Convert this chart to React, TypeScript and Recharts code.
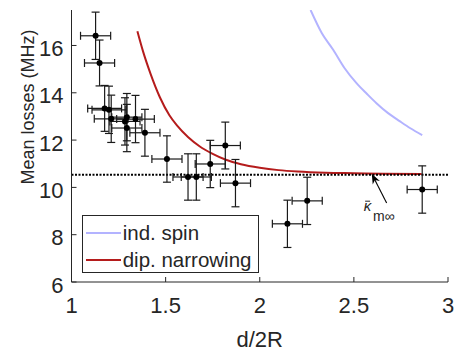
import React from 'react';
import {
  ComposedChart, Line, Scatter, ErrorBar, XAxis, YAxis, ReferenceLine, Legend, Label,
} from 'recharts';

// measured points (d/2R, mean losses) with error bars
const pointX = [1.128, 1.149, 1.176, 1.199, 1.211, 1.284, 1.294, 1.294, 1.34, 1.39, 1.507, 1.619, 1.663, 1.737, 1.817, 1.871, 2.147, 2.252, 2.863];
const pointY = [16.41, 15.26, 13.34, 13.28, 12.9, 12.79, 12.97, 12.51, 12.89, 12.31, 11.2, 10.44, 10.44, 10.99, 11.77, 10.18, 8.46, 9.43, 9.91];
const pointErrX = [0.08, 0.08, 0.09, 0.09, 0.09, 0.08, 0.08, 0.08, 0.1, 0.08, 0.08, 0.08, 0.08, 0.08, 0.08, 0.08, 0.08, 0.08, 0.08];
const pointErrY = [1.0, 0.97, 0.97, 1.0, 1.0, 1.0, 1.0, 1.0, 1.0, 0.99, 0.98, 0.98, 0.98, 1.0, 0.99, 1.0, 1.0, 1.0, 1.0];

// model curves
const spinX = [2.27, 2.33, 2.39, 2.45, 2.514, 2.57, 2.62, 2.68, 2.745, 2.8, 2.863];
const spinY = [17.5, 16.52, 15.82, 15.05, 14.41, 13.95, 13.56, 13.15, 12.79, 12.5, 12.21];
const narrowX = [1.35, 1.38, 1.42, 1.47, 1.52, 1.56, 1.62, 1.68, 1.75, 1.82, 1.9, 2.0, 2.1, 2.2, 2.35, 2.5, 2.65, 2.86];
const narrowY = [16.6, 15.75, 14.8, 13.8, 13.05, 12.62, 12.12, 11.74, 11.42, 11.17, 10.98, 10.83, 10.73, 10.67, 10.62, 10.6, 10.58, 10.57];

const legendOrder = ['ind. spin', 'dip. narrowing'];

const kappaInf = 10.53;
const arrowTip = { x: 2.595, y: 10.575 };
const arrowTail = { x: 2.674, y: 9.34 };

const xTicks = [1, 1.5, 2, 2.5, 3];
const yTicks = [6, 8, 10, 12, 14, 16];

const points = pointX.map((x, i) => ({ x, y: pointY[i], ex: pointErrX[i], ey: pointErrY[i] }));
const spinData = spinX.map((x, i) => ({ x, y: spinY[i] }));
const narrowData = narrowX.map((x, i) => ({ x, y: narrowY[i] }));

const FONT = '"Liberation Sans", Arial, Helvetica, sans-serif';
const AX = '#262626';
const SPIN = '#b3b3ff';
const RED = '#b51c1c';

const BottomTick = (p: any) => (
  <g>
    <line x1={p.x} x2={p.x} y1={p.y} y2={p.y - 5} stroke={AX} />
    <text x={p.x} y={p.y + 31} textAnchor="middle" fontSize={22} fill={AX} fontFamily={FONT}>
      {p.payload.value}
    </text>
  </g>
);
const TopTick = (p: any) => <line x1={p.x} x2={p.x} y1={p.y} y2={p.y + 5} stroke={AX} />;
const LeftTick = (p: any) => (
  <g>
    <line x1={p.x} x2={p.x + 5} y1={p.y} y2={p.y} stroke={AX} />
    <text x={p.x - 8} y={p.y + 10.5} textAnchor="end" fontSize={22} fill={AX} fontFamily={FONT}>
      {p.payload.value}
    </text>
  </g>
);
const RightTick = (p: any) => <line x1={p.x} x2={p.x - 5} y1={p.y} y2={p.y} stroke={AX} />;

const XTitle = (p: any) => {
  const vb = p.viewBox;
  return (
    <text x={vb.x + vb.width / 2} y={vb.y + 64.5} textAnchor="middle" fontSize={22} fill={AX} fontFamily={FONT}>
      d/2R
    </text>
  );
};
const YTitle = (p: any) => {
  const vb = p.viewBox;
  const cx = vb.x + 33.5;
  const cy = vb.y + 97;
  return (
    <text x={cx} y={cy} transform={`rotate(-90 ${cx} ${cy})`} textAnchor="middle" fontSize={18} fill={AX} fontFamily={FONT}>
      Mean losses (MHz)
    </text>
  );
};

const ArrowShape = (p: any) => {
  const { x1, y1, x2, y2 } = p;
  const dx = x1 - x2;
  const dy = y1 - y2;
  const len = Math.sqrt(dx * dx + dy * dy);
  const ux = dx / len;
  const uy = dy / len;
  const hl = 10;
  const hw = 4;
  const bx = x1 - ux * hl;
  const by = y1 - uy * hl;
  const head = `${x1},${y1} ${bx - uy * hw},${by + ux * hw} ${x1 - ux * 7},${y1 - uy * 7} ${bx + uy * hw},${by - ux * hw}`;
  return (
    <g>
      <line x1={x2} y1={y2} x2={x1 - ux * 5} y2={y1 - uy * 5} stroke="#000" strokeWidth={1.1} />
      <polygon points={head} fill="#000" />
      <line x1={x2 - 21.5} x2={x2 - 16.5} y1={y2 - 1.8} y2={y2 - 1.8} stroke={AX} strokeWidth={1} />
      <text x={x2 - 23} y={y2 + 8.4} fontSize={15} fontStyle="italic" fill={AX} fontFamily={FONT}>κ</text>
      <text x={x2 - 13.7} y={y2 + 18.4} fontSize={14} fill={AX} fontFamily={FONT}>m∞</text>
    </g>
  );
};

const LegendBox = (props: any) => {
  const items = (props.payload || [])
    .filter((e: any) => e.type === 'line')
    .sort((a: any, b: any) => legendOrder.indexOf(a.value) - legendOrder.indexOf(b.value));
  return (
    <div style={{ border: `1px solid ${AX}`, background: '#fff', width: 175, height: 56, position: 'relative', fontFamily: FONT, fontSize: 20.5, color: AX }}>
      {items.map((e: any, i: number) => (
        <div key={e.value} style={{ position: 'absolute', left: 3, top: 4 + i * 27, height: 25, display: 'flex', alignItems: 'center', whiteSpace: 'nowrap' }}>
          <div style={{ width: 35, height: 2, background: e.color, marginRight: 2 }} />
          <span>{e.value}</span>
        </div>
      ))}
    </div>
  );
};

export default function App() {
  return (
    <div style={{ position: 'absolute', left: 0, top: 0, width: 454, height: 351, background: '#fff' }}>
      <ComposedChart width={454} height={351} margin={{ top: 10, right: 6, bottom: 0, left: 0 }}>
        <XAxis type="number" dataKey="x" domain={[1, 3]} ticks={xTicks} interval={0} allowDataOverflow
          height={69} tickSize={0} tickMargin={0} tickLine={false} tick={<BottomTick />}
          axisLine={{ stroke: AX }} label={<Label content={XTitle} />} />
        <XAxis xAxisId="top" orientation="top" type="number" domain={[1, 3]} ticks={xTicks} interval={0} allowDataOverflow
          height={0} tickSize={0} tickMargin={0} tickLine={false} tick={<TopTick />} axisLine={{ stroke: AX }} />
        <YAxis type="number" dataKey="y" domain={[6, 17.5]} ticks={yTicks} interval={0} allowDataOverflow
          width={71.5} tickSize={0} tickMargin={0} tickLine={false} tick={<LeftTick />}
          axisLine={{ stroke: AX }} label={<Label content={YTitle} />} />
        <YAxis yAxisId="right" orientation="right" type="number" domain={[6, 17.5]} ticks={yTicks} interval={0} allowDataOverflow
          width={0} tickSize={0} tickMargin={0} tickLine={false} tick={<RightTick />} axisLine={{ stroke: AX }} />
        <Line data={spinData} dataKey="y" name="ind. spin" type="monotone" stroke={SPIN} strokeWidth={2}
          dot={false} activeDot={false} isAnimationActive={false} />
        <Line data={narrowData} dataKey="y" name="dip. narrowing" type="monotone" stroke={RED} strokeWidth={2}
          dot={false} activeDot={false} isAnimationActive={false} />
        <ReferenceLine y={kappaInf} stroke="#000" strokeWidth={2} strokeDasharray="2 1.5" />
        <ReferenceLine segment={[arrowTip, arrowTail]} shape={ArrowShape} />
        <Scatter data={points} dataKey="y" legendType="none" isAnimationActive={false}
          shape={(p: any) => <circle cx={p.cx} cy={p.cy} r={3} fill="#000" />}>
          <ErrorBar dataKey="ey" direction="y" width={4} stroke="#1a1a1a" strokeWidth={1.2} isAnimationActive={false} />
          <ErrorBar dataKey="ex" direction="x" width={4} stroke="#1a1a1a" strokeWidth={1.2} isAnimationActive={false} />
        </Scatter>
        <Legend layout="horizontal" verticalAlign="middle" align="center" content={LegendBox}
          wrapperStyle={{ left: 81.7, top: 215, width: 177, height: 58 }} />
      </ComposedChart>
    </div>
  );
}
